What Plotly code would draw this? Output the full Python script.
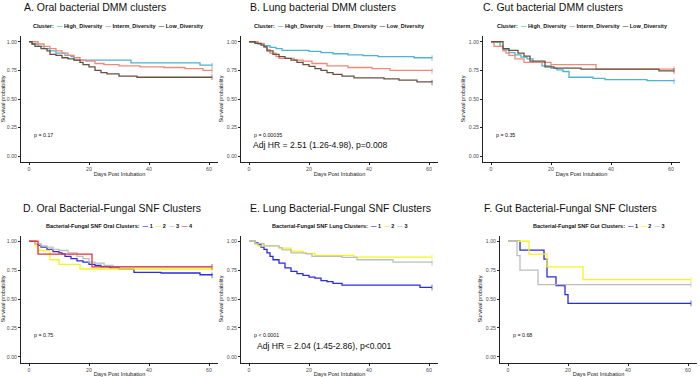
import plotly.graph_objects as go

W, H = 700, 377
FONT = "Liberation Sans, Arial, sans-serif"

# ---------------- data (days, survival probability) ----------------
# A. Oral bacterial DMM clusters
A_high_t = [0, 1, 3, 5, 7, 9, 12, 14, 15, 34, 57, 61]
A_high_s = [1, 0.98, 0.96, 0.94, 0.92, 0.90, 0.88, 0.87, 0.84, 0.815, 0.795, 0.79]
A_interm_t = [0, 3, 5, 7, 9, 11, 13, 15, 17, 19, 22, 25, 30, 37, 45, 52, 58, 61]
A_interm_s = [1, 0.98, 0.96, 0.94, 0.92, 0.90, 0.88, 0.86, 0.84, 0.83, 0.81, 0.80, 0.79, 0.78, 0.775, 0.765, 0.75, 0.747]
A_low_t = [0, 1, 2, 4, 6, 7, 9, 11, 13, 15, 17, 18, 20, 22, 24, 26, 30, 36, 61]
A_low_s = [1, 0.98, 0.96, 0.94, 0.92, 0.89, 0.88, 0.86, 0.85, 0.84, 0.82, 0.80, 0.78, 0.75, 0.73, 0.72, 0.70, 0.69, 0.69]

# B. Lung bacterial DMM clusters
B_high_t = [0, 2, 3, 5, 7, 9, 11, 20, 24, 28, 33, 38, 43, 55, 61]
B_high_s = [1, 0.99, 0.98, 0.965, 0.95, 0.94, 0.925, 0.915, 0.905, 0.895, 0.885, 0.878, 0.87, 0.86, 0.857]
B_interm_t = [0, 3, 5, 6, 7, 9, 10, 15, 18, 21, 26, 33, 41, 47, 61]
B_interm_s = [1, 0.985, 0.955, 0.93, 0.90, 0.87, 0.855, 0.84, 0.83, 0.81, 0.79, 0.775, 0.765, 0.75, 0.745]
B_low_t = [0, 2, 4, 5, 6, 8, 10, 12, 14, 16, 18, 20, 22, 24, 26, 28, 31, 35, 45, 50, 56, 61]
B_low_s = [1, 0.985, 0.97, 0.955, 0.92, 0.89, 0.87, 0.855, 0.84, 0.82, 0.80, 0.785, 0.765, 0.75, 0.73, 0.715, 0.70, 0.685, 0.675, 0.665, 0.65, 0.643]

# C. Gut bacterial DMM clusters
C_high_t = [0, 3, 4, 6, 8, 10, 12, 14, 17, 20, 22, 24, 26, 34, 38, 52, 61]
C_high_s = [1, 0.96, 0.93, 0.905, 0.885, 0.865, 0.85, 0.82, 0.79, 0.77, 0.755, 0.74, 0.69, 0.68, 0.67, 0.66, 0.655]
C_interm_t = [0, 1, 4, 5, 6, 8, 11, 20, 35, 61]
C_interm_s = [1, 0.96, 0.92, 0.90, 0.88, 0.85, 0.82, 0.80, 0.76, 0.76]
C_low_t = [0, 4, 6, 9, 11, 13, 18, 21, 30, 56, 61]
C_low_s = [1, 0.94, 0.925, 0.90, 0.875, 0.83, 0.78, 0.77, 0.76, 0.745, 0.745]

# D. Oral Bacterial-Fungal SNF clusters
D_c1_t = [0, 2, 3, 4, 6, 8, 10, 11, 12, 14, 16, 18, 20, 22, 24, 27, 30, 35, 44, 57, 61]
D_c1_s = [1, 0.98, 0.965, 0.95, 0.93, 0.91, 0.90, 0.89, 0.87, 0.85, 0.83, 0.82, 0.80, 0.79, 0.78, 0.77, 0.76, 0.73, 0.725, 0.71, 0.705]
D_c2_t = [0, 2, 3, 7, 10, 17, 61]
D_c2_s = [1, 0.96, 0.92, 0.84, 0.80, 0.76, 0.76]
D_c3_t = [0, 2, 4, 6, 8, 10, 13, 16, 18, 20, 22, 25, 28, 61]
D_c3_s = [1, 0.98, 0.96, 0.95, 0.93, 0.92, 0.90, 0.87, 0.85, 0.82, 0.81, 0.79, 0.78, 0.778]
D_c4_t = [0, 3, 21, 61]
D_c4_s = [1, 0.889, 0.778, 0.778]

# E. Lung Bacterial-Fungal SNF clusters
E_c1_t = [0, 2, 3, 4, 5, 6, 7, 8, 10, 12, 14, 16, 18, 20, 22, 24, 26, 28, 31, 57, 61]
E_c1_s = [1, 0.985, 0.97, 0.95, 0.93, 0.90, 0.87, 0.84, 0.81, 0.77, 0.74, 0.72, 0.705, 0.69, 0.68, 0.66, 0.65, 0.635, 0.62, 0.60, 0.60]
E_c2_t = [0, 2, 3, 10, 14, 18, 22, 35, 61]
E_c2_s = [1, 0.975, 0.96, 0.94, 0.915, 0.895, 0.878, 0.862, 0.862]
E_c3_t = [0, 2, 5, 10, 11, 14, 19, 21, 31, 36, 48, 61]
E_c3_s = [1, 0.98, 0.96, 0.945, 0.925, 0.90, 0.89, 0.87, 0.86, 0.84, 0.82, 0.81]

# F. Gut Bacterial-Fungal SNF clusters
F_c1_t = [0, 4, 12, 13, 16, 19, 20, 61]
F_c1_s = [1, 0.923, 0.846, 0.692, 0.615, 0.538, 0.462, 0.462]
F_c2_t = [0, 7, 13, 25, 61]
F_c2_s = [1, 0.889, 0.778, 0.667, 0.667]
F_c3_t = [0, 3, 4, 10, 61]
F_c3_s = [1, 0.875, 0.75, 0.625, 0.625]

titles = ["A. Oral bacterial DMM clusters", "B. Lung bacterial DMM clusters",
          "C. Gut bacterial DMM clusters", "D. Oral Bacterial-Fungal SNF Clusters",
          "E. Lung Bacterial-Fungal SNF Clusters", "F. Gut Bacterial-Fungal SNF Clusters"]
pvals = ["p = 0.17", "p = 0.00035", "p = 0.35", "p = 0.75", "p < 0.0001", "p = 0.68"]
hr_texts = {1: "Adj HR = 2.51 (1.26-4.98), p=0.008", 4: "Adj HR = 2.04 (1.45-2.86), p<0.001"}
dmm_names = ["High_Diversity", "Interm_Diversity", "Low_Diversity"]
snf_legend_titles = ["Bacterial-Fungal SNF Oral Clusters:", "Bacterial-Fungal SNF Lung Clusters:",
                     "Bacterial-Fungal SNF Gut Clusters:"]
x_ticks = [0, 20, 40, 60]
y_ticks = [0, 0.25, 0.5, 0.75, 1.0]
y_ticklabels = ["0.00", "0.25", "0.50", "0.75", "1.00"]

# ---------------- styling ----------------
DMM_COLORS = ["#4FB3D1", "#EE8A77", "#6B5040"]
SNF_COLORS = ["#2B2BE0", "#F5F51A", "#BDBDBD", "#E5323C"]

panels = [
    [(A_high_t, A_high_s), (A_interm_t, A_interm_s), (A_low_t, A_low_s)],
    [(B_high_t, B_high_s), (B_interm_t, B_interm_s), (B_low_t, B_low_s)],
    [(C_high_t, C_high_s), (C_interm_t, C_interm_s), (C_low_t, C_low_s)],
    [(D_c1_t, D_c1_s), (D_c2_t, D_c2_s), (D_c3_t, D_c3_s), (D_c4_t, D_c4_s)],
    [(E_c1_t, E_c1_s), (E_c2_t, E_c2_s), (E_c3_t, E_c3_s)],
    [(F_c1_t, F_c1_s), (F_c2_t, F_c2_s), (F_c3_t, F_c3_s)],
]

# pixel layout: (x-axis left, right, day-0 pixel) and row (top, bottom)
col_px = [(21, 218, 29), (241, 438, 249), (483, 680, 491),
          (21, 218, 29), (241, 438, 249), (500, 697, 508)]
row_px = [(36, 162), (235.5, 362.5)]
title_px = [(22, 7.5), (248, 7.5), (481, 7.5), (21, 208), (248, 208), (482, 208)]
legend_px = [(118.5, 26), (339.5, 26), (582, 26), (119, 226), (339.5, 226), (598.5, 226)]
PX_PER_DAY = 3.0


def fx(px):
    return px / W


def fy(py):
    return 1 - py / H


fig = go.Figure()
annotations = []
layout_axes = {}

for i, series in enumerate(panels):
    k = "" if i == 0 else str(i + 1)
    left, right, zero = col_px[i]
    top, bottom = row_px[i // 3]
    xr = [(left - zero) / PX_PER_DAY, (right - zero) / PX_PER_DAY]
    colors = DMM_COLORS if i < 3 else SNF_COLORS
    for j, (t, s) in enumerate(series):
        name = dmm_names[j] if i < 3 else str(j + 1)
        n = len(t)
        fig.add_trace(go.Scatter(
            x=t, y=s, mode="lines+markers", name=name, showlegend=False,
            line=dict(shape="hv", color=colors[j], width=1.3),
            marker=dict(symbol="line-ns-open", size=[0] * (n - 1) + [4],
                        color=colors[j], line=dict(width=1, color=colors[j])),
            xaxis="x" + k, yaxis="y" + k, hoverinfo="skip"))

    axis_common = dict(showline=True, linecolor="#222222", linewidth=1,
                       ticks="outside", ticklen=2, tickwidth=1, tickcolor="#222222",
                       showgrid=False, zeroline=False,
                       tickfont=dict(family=FONT, size=5.2, color="#4d4d4d"))
    layout_axes["xaxis" + k] = dict(
        axis_common, domain=[fx(left), fx(right)], range=xr, anchor="y" + k,
        tickvals=x_ticks,
        title=dict(text="Days Post Intubation", standoff=0,
                   font=dict(family=FONT, size=5.6, color="#222222")))
    layout_axes["yaxis" + k] = dict(
        axis_common, domain=[fy(bottom), fy(top)], range=[-0.05, 1.05], anchor="x" + k,
        tickvals=y_ticks, ticktext=y_ticklabels,
        title=dict(text="Survival probability", standoff=2,
                   font=dict(family=FONT, size=5.6, color="#222222")))

    # panel title
    tx, ty = title_px[i]
    annotations.append(dict(text=titles[i], x=fx(tx), y=fy(ty), xref="paper", yref="paper",
                            xanchor="left", yanchor="middle", showarrow=False,
                            font=dict(family=FONT, size=10.5, color="#111111")))
    # legend (as text)
    if i < 3:
        parts = ["<b>Cluster:</b>"] + [
            f"<span style='color:{DMM_COLORS[j]}'><b>—</b></span> <b>{dmm_names[j]}</b>"
            for j in range(3)]
    else:
        parts = [f"<b>{snf_legend_titles[i - 3]}</b>"] + [
            f"<span style='color:{SNF_COLORS[j]}'><b>—</b></span> <b>{j + 1}</b>"
            for j in range(len(series))]
    lx, ly = legend_px[i]
    annotations.append(dict(text="  ".join(parts), x=fx(lx), y=fy(ly), xref="paper", yref="paper",
                            xanchor="center", yanchor="middle", showarrow=False,
                            font=dict(family=FONT, size=5.5, color="#111111")))
    # p-value
    annotations.append(dict(text=pvals[i], x=1, y=0.19, xref="x" + k, yref="y" + k,
                            xanchor="left", yanchor="middle", showarrow=False,
                            font=dict(family=FONT, size=5.3, color="#111111")))
    if i in hr_texts:
        annotations.append(dict(text=hr_texts[i], x=0.5 if i == 1 else 2, y=0.095,
                                xref="x" + k, yref="y" + k,
                                xanchor="left", yanchor="middle", showarrow=False,
                                font=dict(family=FONT, size=8.6, color="#111111")))

fig.update_layout(
    width=W, height=H, margin=dict(l=0, r=0, t=0, b=0),
    paper_bgcolor="white", plot_bgcolor="white",
    showlegend=False, annotations=annotations, **layout_axes)

fig.write_html("out.html", config={"displayModeBar": False},
               post_script="document.body.style.margin='0';document.body.style.overflow='hidden';")
